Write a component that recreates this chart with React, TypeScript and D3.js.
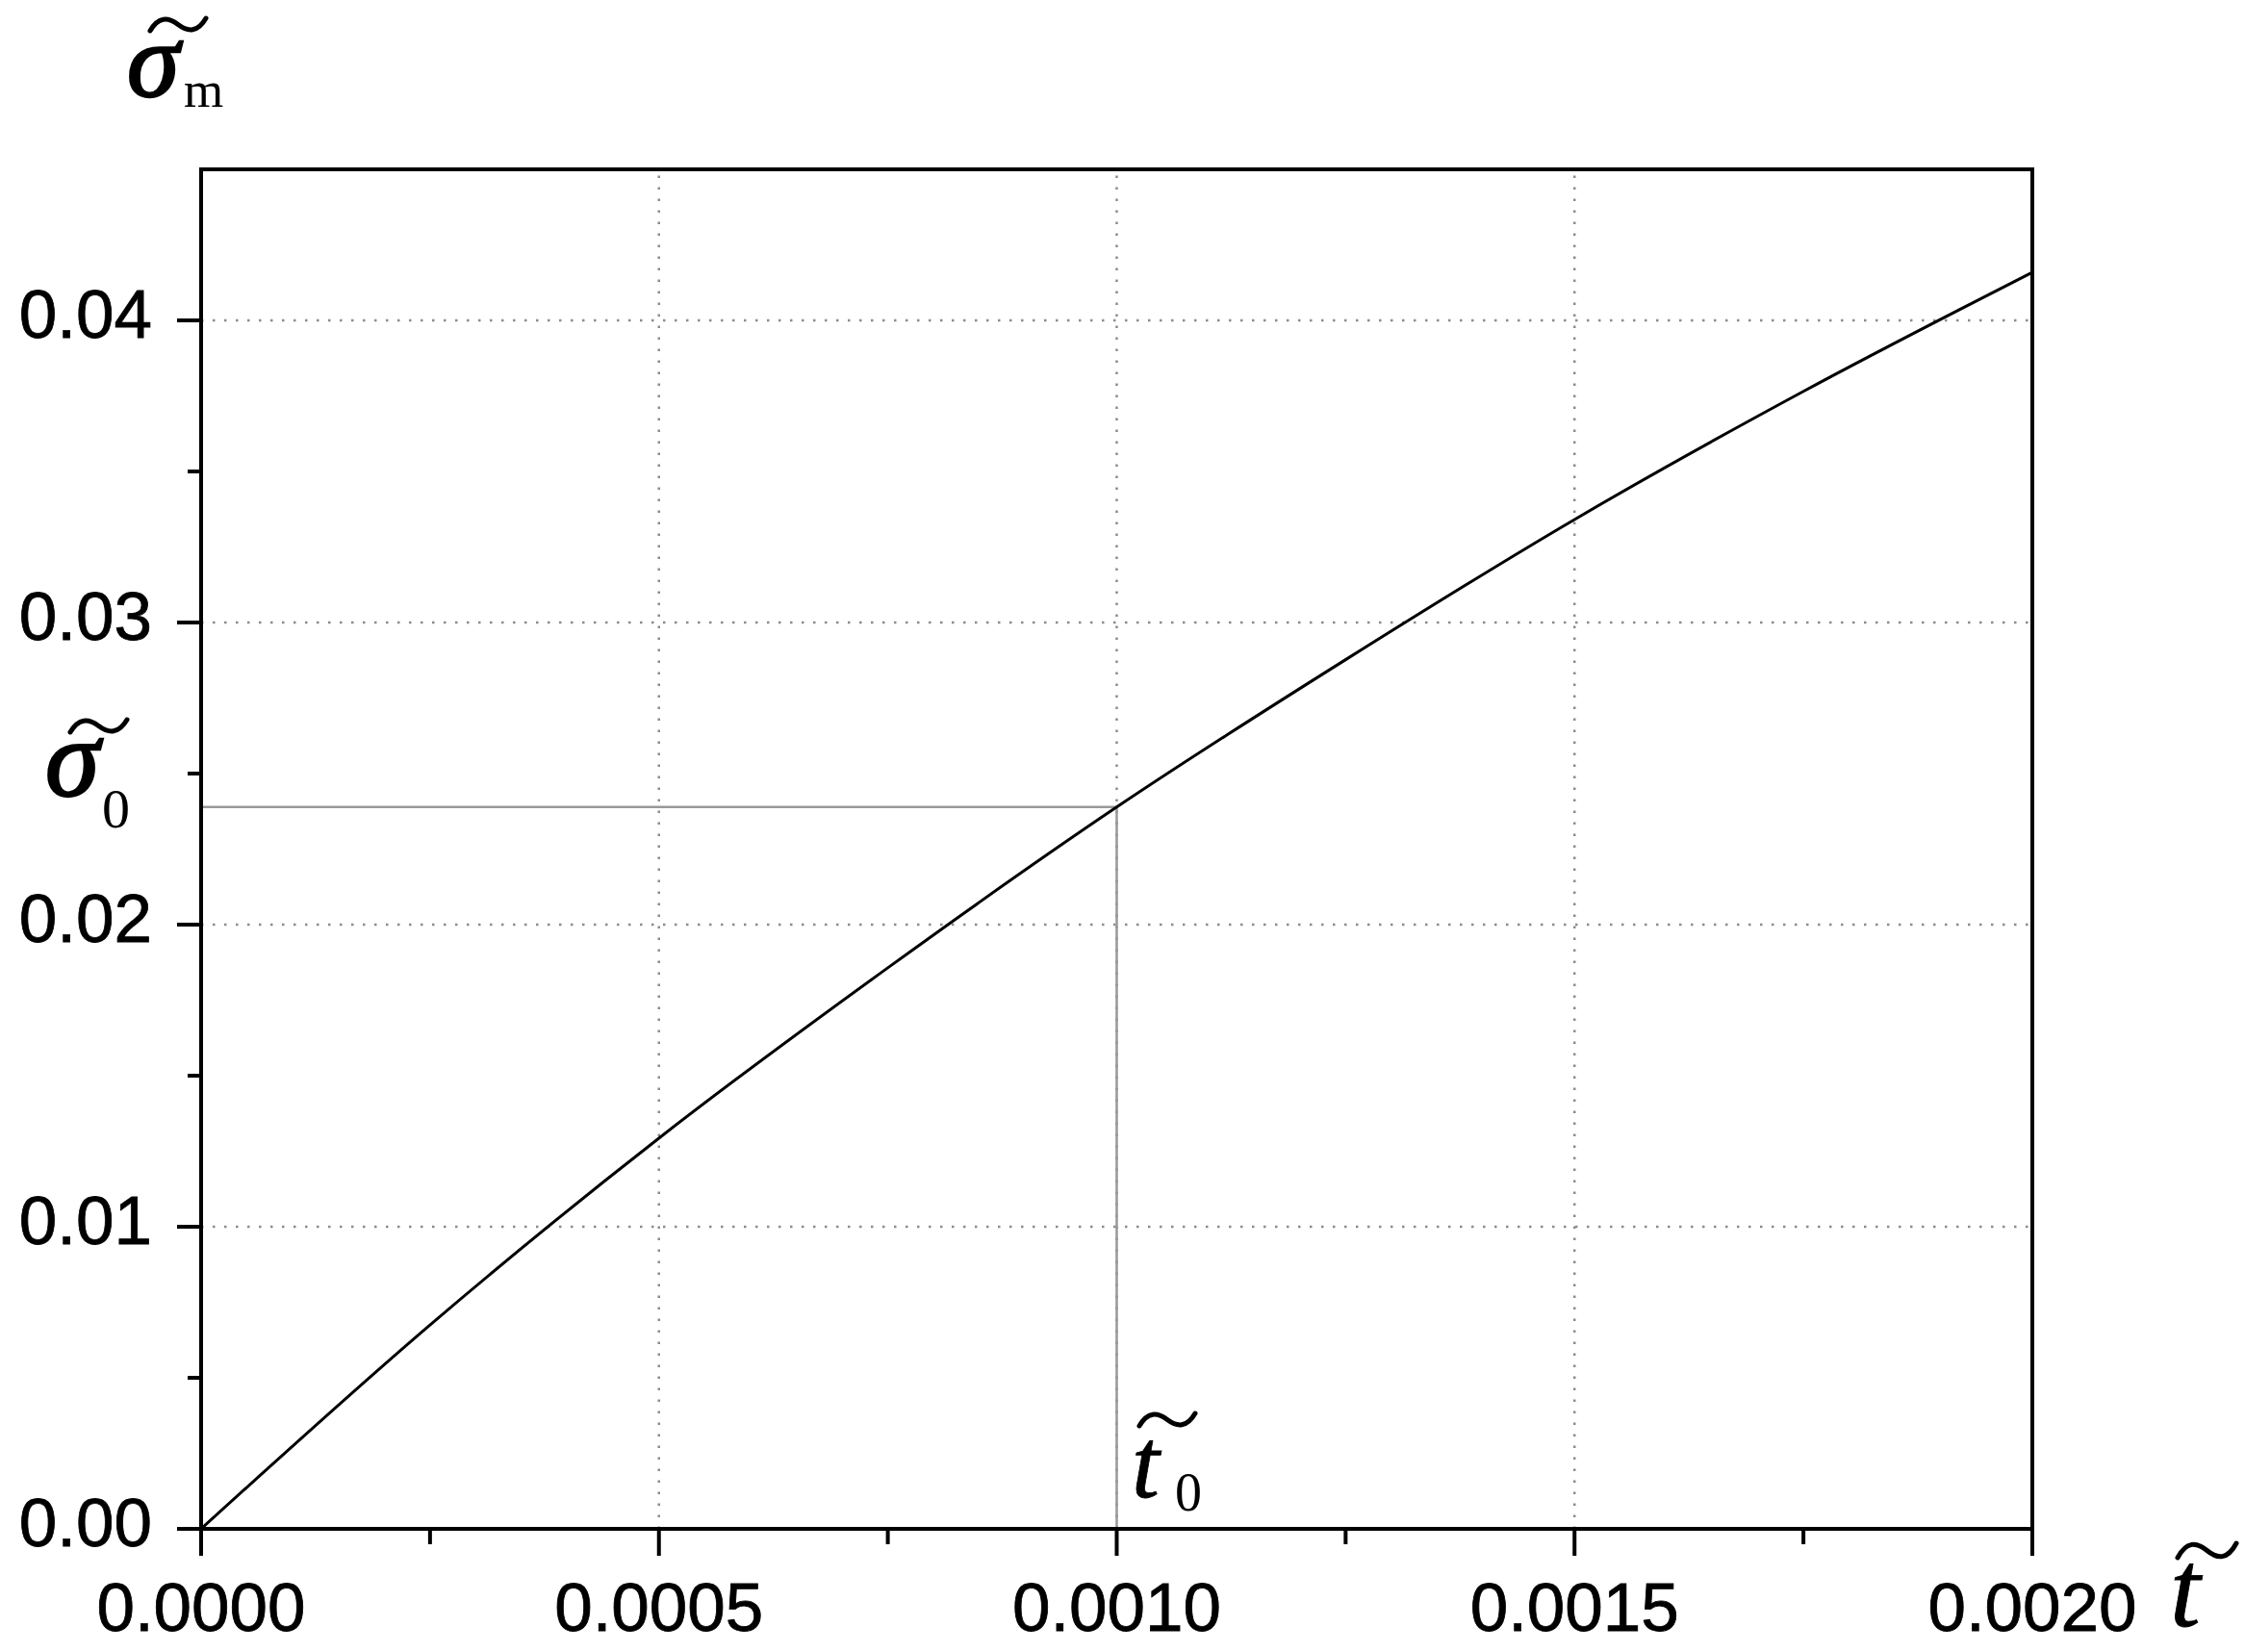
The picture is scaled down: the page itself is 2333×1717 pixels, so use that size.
import React from "react";
import * as d3 from "d3";

const tValues = [0, 0.00025, 0.0005, 0.00075, 0.001, 0.00125, 0.0015, 0.00175, 0.002];
const sigmaValues = [0, 0.00675, 0.01293, 0.01857, 0.02389, 0.02877, 0.03341, 0.03765, 0.04159];
const xTicks = [0, 0.0005, 0.001, 0.0015, 0.002];
const xTickLabels = ["0.0000", "0.0005", "0.0010", "0.0015", "0.0020"];
const xMinorTicks = [0.00025, 0.00075, 0.00125, 0.00175];
const yTicks = [0, 0.01, 0.02, 0.03, 0.04];
const yTickLabels = ["0.00", "0.01", "0.02", "0.03", "0.04"];
const yMinorTicks = [0.005, 0.015, 0.025, 0.035];
const t0 = 0.001;
const sigma0 = 0.02389;

const W = 2333;
const H = 1717;
const L = 209, R = 2112, T = 176, B = 1589;

function Tilde({ x, y, w, h }: { x: number; y: number; w: number; h: number }) {
  const d = `M${x},${y + h} C${x + w * 0.15},${y - h * 0.15} ${x + w * 0.32},${y - h * 0.1} ${x + w * 0.5},${y + h * 0.5} S${x + w * 0.85},${y + h * 1.15} ${x + w},${y}`;
  return <path d={d} fill="none" stroke="#000" strokeWidth={5} strokeLinecap="round" />;
}

export default function App() {
  const x = d3.scaleLinear().domain([0, 0.002]).range([L, R]);
  const y = d3.scaleLinear().domain([0, 0.045]).range([B, T]);
  const pts: [number, number][] = tValues.map((t, i) => [t, sigmaValues[i]]);
  const line = d3
    .line<[number, number]>()
    .x((d) => x(d[0]))
    .y((d) => y(d[1]))
    .curve(d3.curveMonotoneX);

  const sans = "Arial, 'Liberation Sans', sans-serif";
  const serif = "'Times New Roman', 'Liberation Serif', serif";
  const grid = { stroke: "#8c8c8c", strokeWidth: 2.5, strokeDasharray: "2.5 9.5" };
  const labelStroke = { stroke: "#000", strokeWidth: 0.8 };
  const greekStroke = { stroke: "#000", strokeWidth: 2.4 };

  return (
    <svg width={W} height={H} style={{ position: "absolute", left: 0, top: 0, background: "#fff" }}>
      <rect x={0} y={0} width={W} height={H} fill="#fff" />
      {xTicks.filter((t) => t > 0 && t < 0.002).map((t) => (
        <line key={"gx" + t} x1={x(t)} x2={x(t)} y1={B} y2={T} {...grid} />
      ))}
      {yTicks.filter((t) => t > 0).map((t) => (
        <line key={"gy" + t} x1={L} x2={R} y1={y(t)} y2={y(t)} {...grid} />
      ))}
      <line x1={L} x2={x(t0)} y1={y(sigma0)} y2={y(sigma0)} stroke="#999" strokeWidth={2.5} />
      <line x1={x(t0)} x2={x(t0)} y1={B} y2={y(sigma0)} stroke="#999" strokeWidth={2.5} />
      <path d={line(pts) || ""} fill="none" stroke="#000" strokeWidth={3} />
      <rect x={L} y={T} width={R - L} height={B - T} fill="none" stroke="#000" strokeWidth={4} />
      {xTicks.map((t) => (
        <line key={"xt" + t} x1={x(t)} x2={x(t)} y1={B} y2={B + 28} stroke="#000" strokeWidth={4} />
      ))}
      {xMinorTicks.map((t) => (
        <line key={"xm" + t} x1={x(t)} x2={x(t)} y1={B} y2={B + 16} stroke="#000" strokeWidth={4} />
      ))}
      {xTicks.map((t, i) => (
        <text key={"xl" + t} x={x(t)} y={B + 106} textAnchor="middle" fontFamily={sans} fontSize={71} fill="#000" {...labelStroke}>
          {xTickLabels[i]}
        </text>
      ))}
      {yTicks.map((t) => (
        <line key={"yt" + t} x1={L - 25} x2={L} y1={y(t)} y2={y(t)} stroke="#000" strokeWidth={4} />
      ))}
      {yMinorTicks.map((t) => (
        <line key={"ym" + t} x1={L - 14} x2={L} y1={y(t)} y2={y(t)} stroke="#000" strokeWidth={4} />
      ))}
      {yTicks.map((t, i) => (
        <text key={"yl" + t} x={158} y={y(t) + 18} textAnchor="end" fontFamily={sans} fontSize={71} fill="#000" {...labelStroke}>
          {yTickLabels[i]}
        </text>
      ))}
      <text x={132} y={100} fontFamily={serif} fontStyle="italic" fontSize={110} fill="#000" {...greekStroke}>σ</text>
      <text x={191} y={111} fontFamily={serif} fontSize={53} fill="#000">m</text>
      <Tilde x={156} y={19} w={58} h={13} />

      <text x={47} y={827} fontFamily={serif} fontStyle="italic" fontSize={114} fill="#000" {...greekStroke}>σ</text>
      <text x={106} y={860} fontFamily={serif} fontSize={58} fill="#000">0</text>
      <Tilde x={73} y={748} w={59} h={13} />

      <text x={1176} y={1556} fontFamily={serif} fontStyle="italic" fontSize={104} fill="#000" {...labelStroke}>t</text>
      <text x={1221} y={1570} fontFamily={serif} fontSize={56} fill="#000">0</text>
      <Tilde x={1184} y={1469} w={58} h={13} />

      <text x={2255} y={1690} fontFamily={serif} fontStyle="italic" fontSize={114} fill="#000" {...labelStroke}>t</text>
      <Tilde x={2263} y={1604} w={61} h={15} />
    </svg>
  );
}
